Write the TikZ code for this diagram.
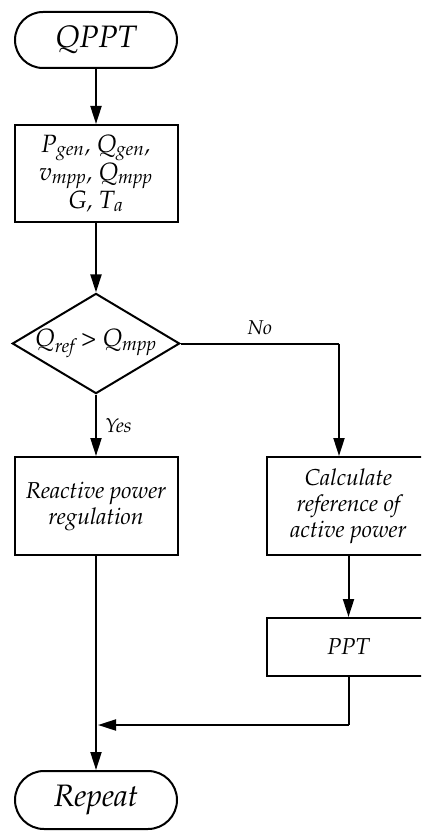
\documentclass[tikz,border=0pt]{standalone}
\usepackage[T1]{fontenc}
\usepackage{mathpazo}
\usetikzlibrary{arrows.meta,shapes.geometric}
\begin{document}
\begin{tikzpicture}[x=1pt,y=-1pt,
  lw/.style={line width=2pt},
  txt/.style={font=\fontsize{23}{26}\selectfont\itshape},
  box/.style={lw, draw, txt, align=center, inner sep=0pt, minimum width=163pt},
  term/.style={lw, draw, font=\fontsize{31}{34}\selectfont\itshape, rounded corners=28pt, minimum width=162pt, minimum height=56pt, inner sep=0pt},
  dec/.style={lw, draw, diamond, aspect=1.67, inner sep=0pt, minimum width=162pt, minimum height=97pt, font=\fontsize{25}{28}\selectfont\itshape},
  lbl/.style={font=\fontsize{20}{22}\selectfont\itshape, inner sep=0pt},
  conn/.style={lw, -{Triangle[length=18pt,width=11pt]}},
  plain/.style={lw}
]
\useasboundingbox (0,0) rectangle (421,834);
\clip (0,0) rectangle (421,834);

\node[term] (start) at (96,40) {QPPT};
\node[box, minimum height=97pt, font=\fontsize{25}{28}\selectfont\itshape] (inp) at (96,173.5)
  {P\textsubscript{gen}, Q\textsubscript{gen},\\ v\textsubscript{mpp}, Q\textsubscript{mpp}\\ G, T\textsubscript{a}};
\node[dec] (dec) at (96,343.5) {Q\textsubscript{ref} {\upshape >} Q\textsubscript{mpp}};
\node[box, minimum height=98pt] (react) at (96,506) {Reactive power\\ regulation};
\node[box, minimum height=98pt] (calc) at (348.5,506) {Calculate\\ reference of\\ active power};
\node[box, minimum height=58pt] (ppt) at (348.5,647) {PPT};
\node[term, minimum height=58pt, rounded corners=29pt] (rep) at (96,800) {Repeat};

\coordinate (noturn) at (339,343.5);
\coordinate (joinR) at (348.5,725);
\coordinate (joinL) at (98,725);

\draw[conn] (start) -- (inp);
\draw[conn] (inp) -- (dec);
\draw[conn] (dec) -- (react) node[lbl, pos=0.5, anchor=west, xshift=8pt] (yes) {Yes};
\draw[plain] (dec.east) -- (noturn) node[lbl, pos=0.5, anchor=south, yshift=8pt] (no) {No};
\draw[conn] (noturn) -- (noturn |- calc.north);
\draw[conn] (calc) -- (ppt);
\draw[plain] (ppt.south) -- (joinR);
\draw[conn] (joinR) -- (joinL);
\draw[conn] (react) -- (rep);
\end{tikzpicture}
\end{document}
